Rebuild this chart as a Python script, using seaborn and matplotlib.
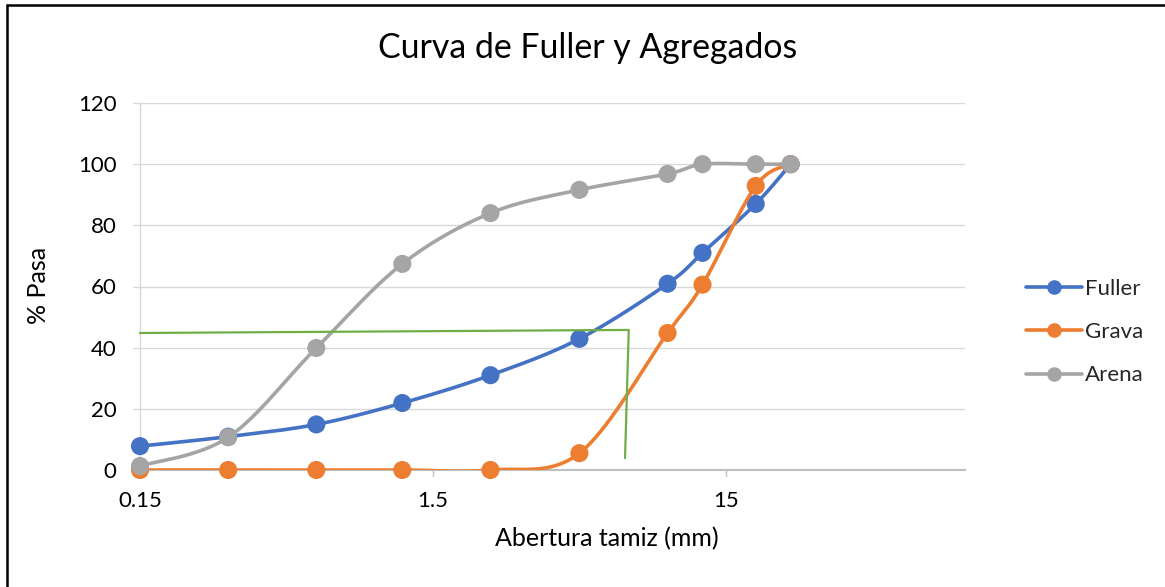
import numpy as np
import pandas as pd
import matplotlib
matplotlib.use("Agg")
import matplotlib.pyplot as plt
from matplotlib.lines import Line2D
import seaborn as sns

# ---- data ----
sieve_mm = [0.15, 0.3, 0.6, 1.18, 2.36, 4.75, 9.5, 12.5, 19, 25]
fuller = [7.8, 10.9, 14.9, 21.9, 31.0, 42.9, 60.9, 71.0, 87.0, 100]
grava = [0, 0, 0, 0, 0, 5.5, 44.8, 60.6, 92.9, 100]
arena = [1.3, 10.7, 39.9, 67.4, 84.0, 91.6, 96.8, 100, 100, 100]
series_names = ["Fuller", "Grava", "Arena"]
series_colors = ["#4472C4", "#ED7D31", "#A5A5A5"]
green_x = [0.15, 7.0, 6.8]
green_y = [44.8, 45.8, 3.9]
x_ticks = [0.15, 1.5, 15]
x_tick_labels = ["0.15", "1.5", "15"]
y_ticks = [0, 20, 40, 60, 80, 100, 120]

sns.set_theme(style="white")
plt.rcParams["font.family"] = ["Lato", "DejaVu Sans"]

W, H = 1165, 587
fig = plt.figure(figsize=(W / 100, H / 100), dpi=100)
L, R, T, B = 140, 965, 103, 470
ax = fig.add_axes([L / W, 1 - B / H, (R - L) / W, (B - T) / H])

XMIN, XMAX = 0.15, 98.5
ax.set_xscale("log")
ax.set_xlim(XMIN, XMAX)
ax.set_ylim(0, 120)

# scale factors (pixels per decade / per unit) for smoothing in display space
sx = (R - L) / np.log10(XMAX / XMIN)
sy = (B - T) / 120.0


def smooth(xs, ys, n=40):
    u = np.log10(np.asarray(xs, float)) * sx
    v = np.asarray(ys, float) * sy
    P = np.column_stack([u, v])
    out = []
    m = len(P)
    for i in range(m - 1):
        p0 = P[i - 1] if i > 0 else P[i]
        p1 = P[i]
        p2 = P[i + 1]
        p3 = P[i + 2] if i + 2 < m else P[i + 1]
        c1 = p1 + (p2 - p0) / 6.0
        c2 = p2 - (p3 - p1) / 6.0
        t = np.linspace(0, 1, n, endpoint=(i == m - 2))[:, None]
        seg = ((1 - t) ** 3) * p1 + 3 * ((1 - t) ** 2) * t * c1 + 3 * (1 - t) * t ** 2 * c2 + t ** 3 * p2
        out.append(seg)
    S = np.vstack(out)
    return 10 ** (S[:, 0] / sx), S[:, 1] / sy


# gridlines
for yv in y_ticks[1:]:
    ax.axhline(yv, color="#D9D9D9", lw=1.0, zorder=0)
ax.tick_params(axis="y", which="both", length=0)
ax.tick_params(axis="x", which="both", length=0)
for sp in ["top", "right"]:
    ax.spines[sp].set_visible(False)
ax.spines["left"].set_color("#D9D9D9")
ax.spines["left"].set_linewidth(1.0)
ax.spines["bottom"].set_color("#BFBFBF")
ax.spines["bottom"].set_linewidth(1.5)

# outer tick marks
for yv in y_ticks:
    ax.plot([0, -0.009], [yv, yv], transform=ax.get_yaxis_transform(), color="#D9D9D9", lw=1.0, clip_on=False)
for xv in x_ticks[1:]:
    ax.plot([xv, xv], [0, -0.016], transform=ax.get_xaxis_transform(), color="#BFBFBF", lw=1.0, clip_on=False)

all_series = [fuller, grava, arena]
rows = []
for name, vals in zip(series_names, all_series):
    xs, ys = smooth(sieve_mm, vals)
    rows.append(pd.DataFrame({"x": xs, "y": ys, "serie": name, "ord": np.arange(len(xs))}))
curves = pd.concat(rows, ignore_index=True)
pts = pd.DataFrame({
    "x": sieve_mm * 3,
    "y": fuller + grava + arena,
    "serie": sum([[n] * len(sieve_mm) for n in series_names], []),
})
pal = dict(zip(series_names, series_colors))

for k, name in enumerate(series_names):
    z = 3 + k
    sub = curves[curves.serie == name]
    sns.lineplot(data=sub, x="x", y="y", color=pal[name], lw=2.6, sort=False,
                 estimator=None, ax=ax, zorder=z, legend=False)
    sp = pts[pts.serie == name]
    sns.scatterplot(data=sp, x="x", y="y", color=pal[name], s=170, edgecolor="none",
                    ax=ax, zorder=z + 0.5, legend=False, clip_on=False)

# hand-drawn green guide line
ax.plot(green_x, green_y, color="#70AD47", lw=1.6, zorder=10, clip_on=False)

ax.set_xticks(x_ticks)
ax.set_xticklabels(x_tick_labels)
ax.xaxis.set_minor_locator(matplotlib.ticker.NullLocator())
ax.set_yticks(y_ticks)
ax.tick_params(axis="x", labelsize=16, pad=15, colors="#000000")
ax.tick_params(axis="y", labelsize=16, pad=17, colors="#000000")
ax.set_xlabel("")
ax.set_ylabel("")

fig.text(607 / W, 1 - 539 / H, "Abertura tamiz (mm)", ha="center", va="center", fontsize=18, color="#000000")
fig.text(38 / W, 1 - 285 / H, "% Pasa", ha="center", va="center", rotation=90, fontsize=18, color="#000000")
fig.text(588 / W, 1 - 48 / H, "Curva de Fuller y Agregados", ha="center", va="center", fontsize=24.4, color="#000000")

handles = [Line2D([0], [0], color=c, lw=2.6, marker="o", markersize=10.5, markeredgewidth=0) for c in series_colors]
fig.legend(handles, series_names, loc="center left", bbox_to_anchor=(1022 / W, 1 - 332 / H), frameon=False,
           fontsize=16, handlelength=2.5, handletextpad=0.12, labelspacing=1.05, borderaxespad=0, borderpad=0.2)

# chart area border (left and top edges visible)
fig.add_artist(Line2D([6.5 / W, 6.5 / W], [0, 1 - 4.5 / H], transform=fig.transFigure, color="#000000", lw=1.8))
fig.add_artist(Line2D([6.5 / W, 1], [1 - 4.5 / H, 1 - 4.5 / H], transform=fig.transFigure, color="#000000", lw=1.8))

fig.savefig("out.png", dpi=100, facecolor="white")
